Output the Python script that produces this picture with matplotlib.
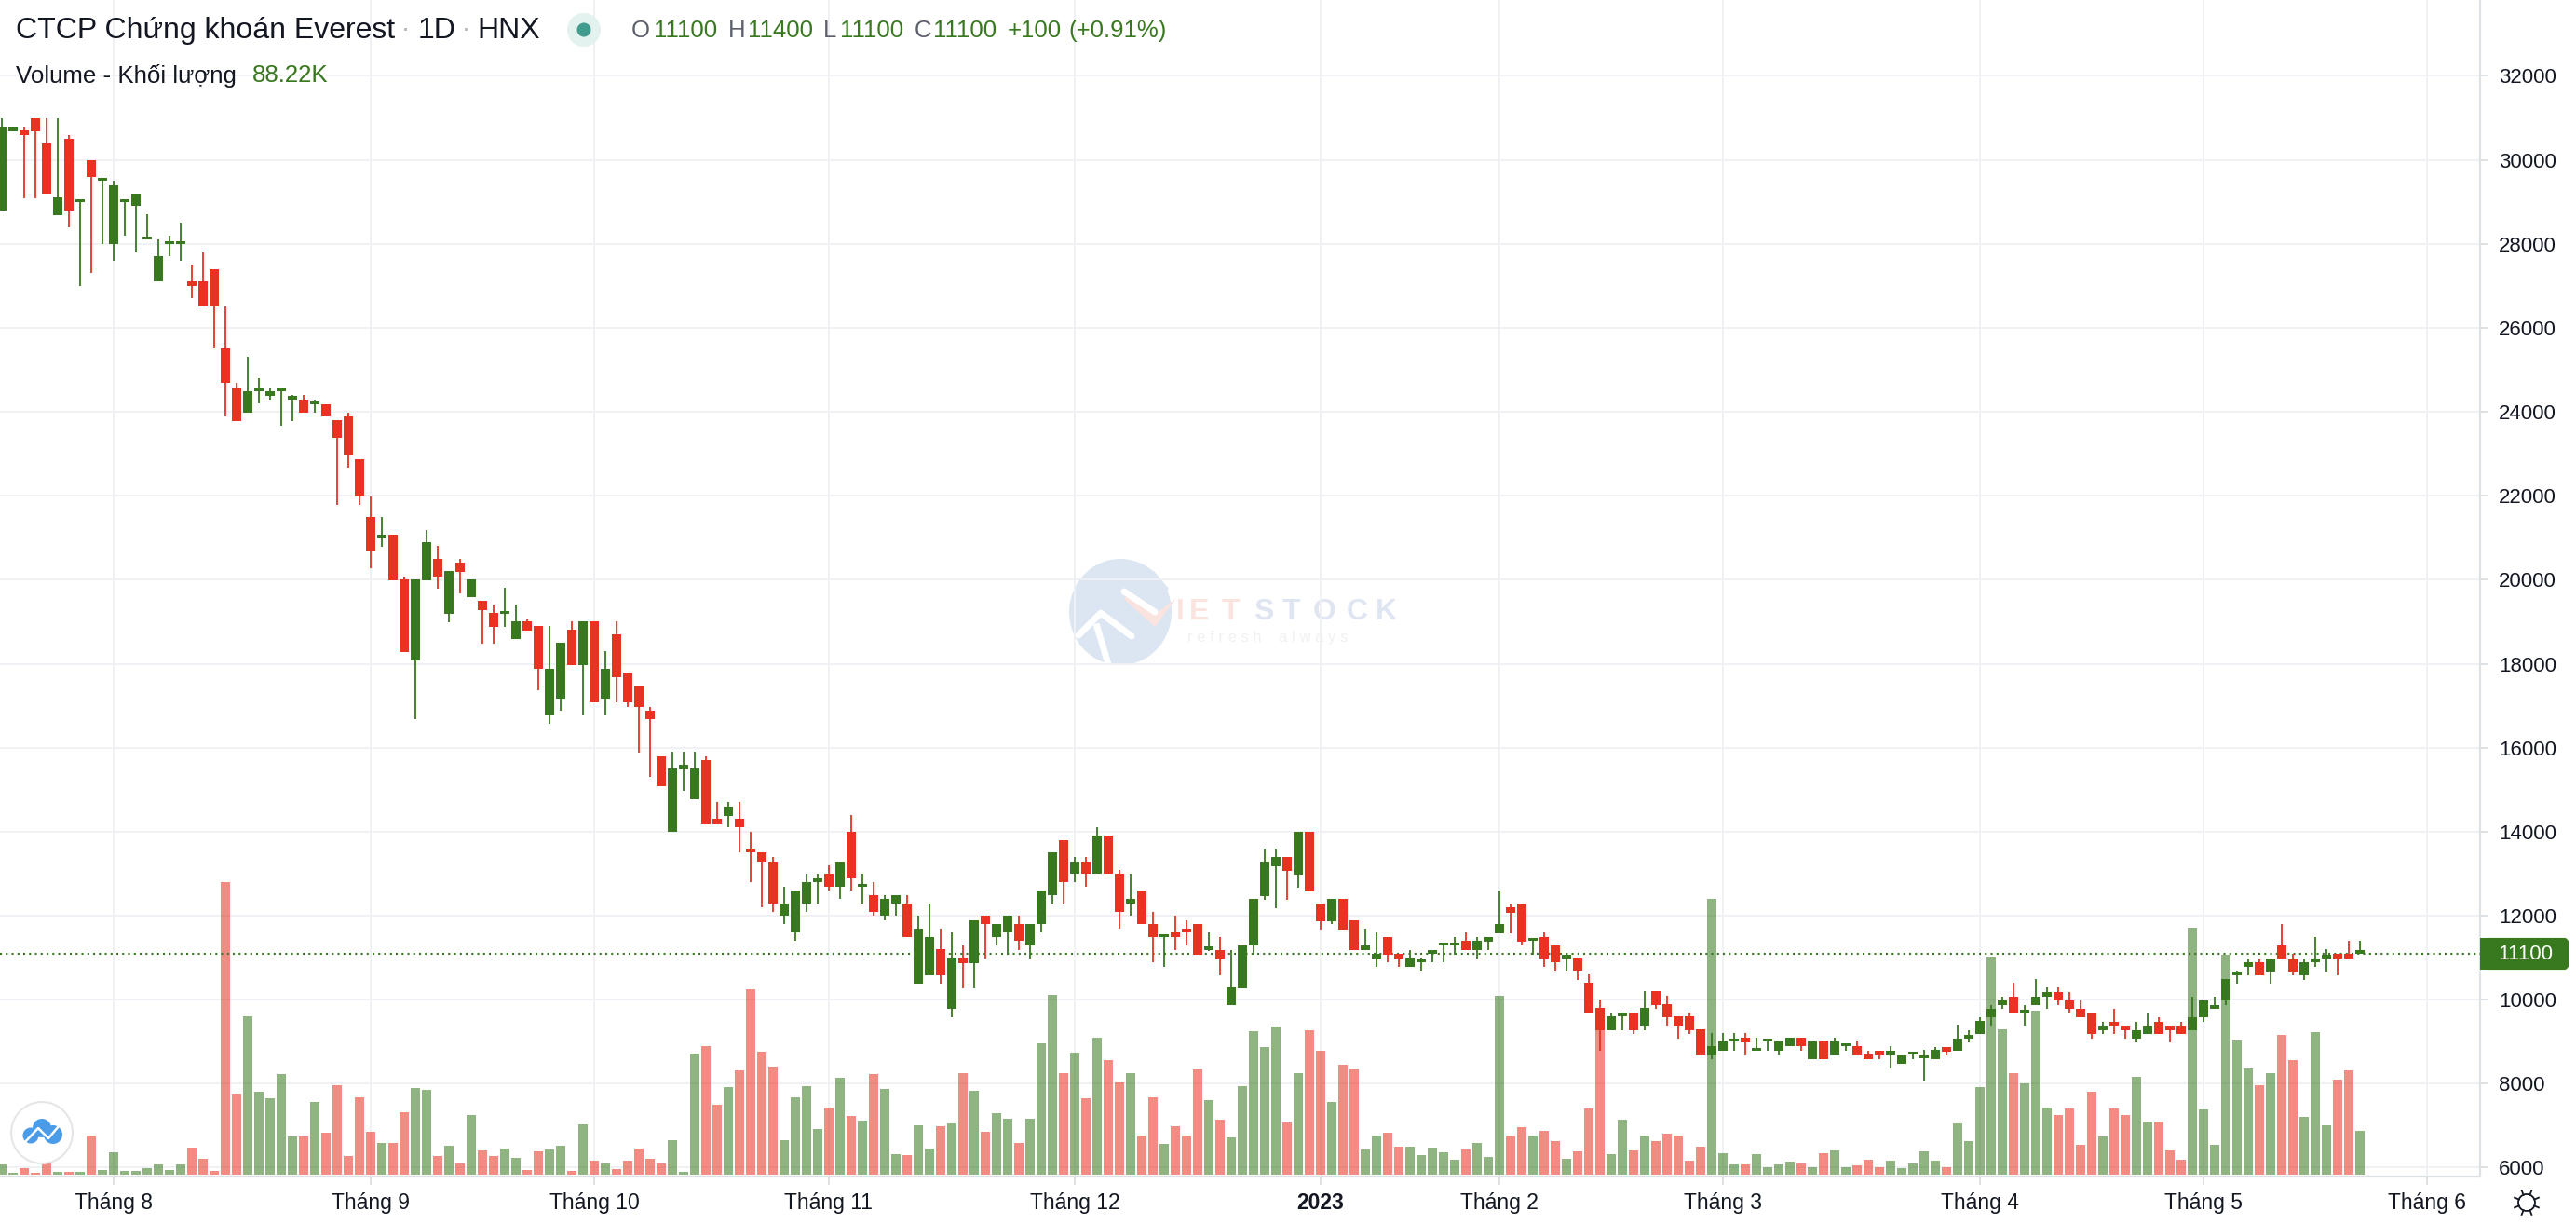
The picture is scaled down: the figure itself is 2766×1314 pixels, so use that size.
# Biểu đồ nến CTCP Chứng khoán Everest (1D, HNX) kèm khối lượng
import matplotlib
matplotlib.use("Agg")
import matplotlib.pyplot as plt
import numpy as np
from matplotlib.patches import Circle, Ellipse, FancyBboxPatch, Polygon, Rectangle

W, H = 2766, 1314
GREEN = "#38781f"
RED = "#e83323"
TEXT = "#131722"
GRID = "#eff1f4"
BORDER = "#dfe2e5"

plt.rcParams["font.family"] = ["Liberation Sans", "DejaVu Sans"]

# =========================
# Dữ liệu
# =========================
opens = [
    28800, 30680, 30700, 31000, 30400, 28680, 30500, 29000, 30000, 29500,
    28000, 29000, 28900, 28100, 27100, 28000, 28000, 27100, 27100, 27400,
    25500, 24590, 23980, 24500, 24370, 24500, 24300, 24300, 24180, 24180,
    23800, 23900, 22880, 21490, 20980, 21080, 20000, 18080, 19990, 20490,
    19190, 20400, 19590, 19490, 19200, 19190, 18590, 19000, 18890, 16770,
    17170, 18800, 17970, 19000, 17170, 18690, 17780, 17490, 16890, 15790,
    13990, 15490, 14780, 15710, 14310, 14380, 14310, 13600, 13510, 13290,
    11990, 11590, 12280, 12790, 13000, 12680, 14000, 12680, 12480, 11990,
    12280, 12280, 10390, 10590, 11200, 9790, 11000, 10870, 12000, 11480,
    11590, 11800, 11280, 11790, 12480, 13800, 12990, 13290, 12990, 13910,
    13000, 12280, 12600, 11800, 11480, 11600, 11680, 11800, 11190, 11190,
    9870, 10270, 11280, 12470, 13180, 13390, 12980, 14000, 12280, 11870,
    12390, 11880, 11180, 10990, 11490, 11100, 10790, 10880, 11100, 11290,
    11290, 11400, 11180, 11380, 11580, 12200, 12290, 11400, 11490, 11290,
    10990, 11000, 10400, 9800, 9270, 9600, 9700, 9390, 10200, 9890,
    9600, 9600, 9290, 8670, 8790, 9000, 9090, 8790, 9000, 8790,
    8890, 9090, 8590, 9000, 8680, 8890, 8890, 8700, 8790, 8680,
    8480, 8690, 8600, 8590, 8880, 8790, 9080, 9180, 9580, 9870,
    10080, 9680, 9870, 10070, 10190, 9990, 9790, 9680, 9280, 9480,
    9390, 9080, 9190, 9480, 9390, 9390, 9280, 9590, 9790, 9990,
    10590, 10780, 10890, 10670, 11290, 10990, 10580, 10880, 10990, 11090,
    11090, 11100,
]
highs = [
    31000, 30800, 30800, 31000, 31000, 31000, 30600, 29000, 30000, 29500,
    29500, 29000, 29200, 28700, 28100, 28200, 28500, 27500, 27800, 27400,
    26500, 24700, 25300, 24800, 24590, 24500, 24400, 24400, 24300, 24180,
    23800, 23980, 22880, 21980, 21490, 21080, 20080, 20000, 21190, 20800,
    20200, 20490, 20000, 19490, 19400, 19800, 19400, 19080, 18890, 18890,
    18490, 19000, 19000, 19000, 18290, 19000, 17780, 17490, 16980, 15790,
    15900, 15900, 15900, 15790, 14710, 14710, 14710, 14000, 13510, 13400,
    12680, 12600, 13000, 13000, 13200, 13290, 14400, 13000, 12790, 12480,
    12480, 12480, 11990, 12280, 11690, 11600, 11290, 11890, 12000, 11800,
    12000, 12000, 11800, 12600, 13510, 13800, 13400, 13400, 14100, 13910,
    13090, 13000, 12600, 12080, 11480, 12000, 11890, 11800, 11600, 11490,
    11190, 11290, 12390, 13590, 13590, 13390, 14000, 14000, 12280, 12390,
    12390, 11880, 11690, 11600, 11490, 11100, 11190, 11000, 11100, 11290,
    11490, 11600, 11490, 11490, 12600, 12280, 12290, 11400, 11600, 11290,
    11100, 11000, 10600, 10000, 9680, 9700, 9700, 10200, 10200, 10090,
    9600, 9690, 9290, 9200, 9200, 9205, 9205, 9090, 9000, 9000,
    9090, 9090, 9000, 9000, 9090, 8890, 9000, 8790, 8790, 8890,
    8680, 8690, 8795, 8880, 8880, 9400, 9280, 9590, 9880, 10080,
    10400, 9880, 10490, 10290, 10290, 10190, 9990, 9680, 9480, 9790,
    9390, 9480, 9680, 9590, 9390, 9480, 10080, 9990, 10080, 10490,
    10680, 10990, 10990, 10990, 11800, 11090, 10990, 11490, 11200, 11090,
    11400, 11400,
]
lows = [
    28800, 30680, 29080, 29080, 29200, 28680, 28400, 27000, 27300, 28000,
    27600, 28200, 27800, 28100, 27100, 27700, 27600, 26700, 26500, 25500,
    23890, 23780, 23980, 24200, 24290, 23680, 23780, 23980, 23980, 23890,
    21780, 22670, 21780, 20270, 20780, 19990, 18270, 16680, 19990, 19790,
    18990, 19680, 19590, 18480, 18480, 18880, 18590, 18790, 17370, 16570,
    16880, 17970, 16770, 17080, 16770, 17080, 16970, 15890, 15300, 15090,
    13990, 14980, 14780, 14180, 14180, 14100, 13500, 12790, 12190, 12080,
    11790, 11390, 12080, 12280, 12590, 12390, 12590, 12280, 11990, 11880,
    11990, 11480, 10390, 10590, 10390, 9590, 10280, 10280, 10990, 11280,
    11070, 11180, 10990, 11590, 12280, 12280, 12790, 12680, 12990, 12990,
    11680, 11990, 11790, 10880, 10790, 11180, 11280, 11070, 11160, 10590,
    9870, 10270, 11070, 12380, 12180, 12380, 12670, 12580, 11670, 11790,
    11670, 11180, 11180, 10790, 10880, 10790, 10790, 10680, 10880, 10880,
    11070, 11180, 10990, 11180, 11580, 11580, 11280, 11070, 10790, 10680,
    10680, 10480, 9680, 8780, 9270, 9270, 9180, 9270, 9790, 9390,
    9070, 9180, 8670, 8590, 8790, 8790, 8680, 8780, 8790, 8680,
    8890, 8790, 8590, 8590, 8680, 8790, 8680, 8590, 8590, 8370,
    8480, 8590, 8070, 8590, 8680, 8790, 8990, 9180, 9390, 9790,
    9670, 9390, 9870, 9790, 9870, 9670, 9590, 9080, 9180, 9180,
    9080, 8990, 9190, 9190, 8990, 9190, 9280, 9480, 9790, 9880,
    10380, 10580, 10580, 10380, 10980, 10580, 10470, 10780, 10670, 10580,
    10990, 11100,
]
closes = [
    30800, 30800, 30600, 30680, 29200, 29100, 28800, 29000, 29600, 29500,
    29400, 29000, 29200, 28100, 27700, 28000, 28000, 27000, 26500, 26500,
    24690, 23780, 24500, 24500, 24500, 24500, 24300, 23980, 24180, 23890,
    23370, 22980, 21980, 20670, 21080, 19990, 18270, 20000, 20890, 20080,
    20200, 20180, 20000, 19270, 18880, 19190, 19000, 18790, 17880, 17890,
    18490, 17970, 19000, 17080, 17890, 17680, 17080, 16970, 16680, 15090,
    15510, 15600, 15510, 14180, 14180, 14590, 14100, 13500, 13280, 12280,
    12290, 12600, 12800, 12890, 12680, 13290, 12880, 12680, 12080, 12400,
    12480, 11480, 11690, 11490, 10590, 11000, 10870, 11890, 11790, 11800,
    12000, 11390, 11800, 12600, 13510, 12790, 13290, 12990, 13910, 12990,
    12080, 12400, 11790, 11480, 11480, 11480, 11590, 11070, 11190, 10990,
    10290, 11290, 12390, 13290, 13390, 13060, 14000, 12580, 11870, 12390,
    11670, 11180, 11290, 11100, 11070, 10990, 11000, 10880, 11100, 11290,
    11290, 11180, 11400, 11490, 11800, 12070, 11380, 11400, 10990, 10880,
    10990, 10680, 9680, 9280, 9600, 9600, 9270, 9800, 9870, 9590,
    9390, 9270, 8670, 8890, 9000, 9000, 8980, 8790, 9000, 9000,
    9090, 8890, 9000, 8590, 9000, 8890, 8680, 8590, 8680, 8790,
    8680, 8690, 8600, 8795, 8770, 9080, 9080, 9490, 9790, 9990,
    9670, 9680, 10080, 10190, 9990, 9790, 9590, 9190, 9390, 9390,
    9280, 9280, 9390, 9190, 9280, 9190, 9590, 9990, 9880, 10490,
    10590, 10890, 10580, 10990, 10980, 10670, 10880, 10990, 10990, 10990,
    10990, 11100,
]
# Khối lượng (nghìn cổ phiếu)
volumes = [
    21, 4, 13, 4, 26, 6, 6, 6, 79, 9, 45, 8, 8, 13, 21, 9, 21, 54, 32, 8,
    589, 163, 319, 167, 154, 203, 77, 77, 146, 84, 180, 38, 156, 86, 64, 64, 126, 175, 171, 38,
    58, 23, 120, 49, 38, 53, 34, 9, 47, 51, 58, 8, 101, 28, 23, 11, 28, 53, 32, 23,
    69, 6, 244, 259, 141, 176, 210, 374, 248, 218, 69, 156, 178, 92, 135, 195, 118, 109, 203, 173,
    41, 39, 99, 53, 98, 103, 205, 169, 86, 124, 113, 64, 113, 265, 362, 205, 246, 154, 276, 231,
    186, 205, 79, 156, 62, 98, 79, 212, 150, 111, 75, 178, 289, 257, 298, 105, 205, 291, 250, 146,
    221, 212, 51, 79, 84, 56, 56, 39, 54, 45, 30, 51, 64, 36, 360, 79, 96, 79, 88, 68,
    32, 47, 133, 291, 41, 111, 49, 79, 68, 83, 79, 28, 56, 556, 43, 21, 21, 41, 15, 21,
    26, 23, 15, 43, 49, 15, 19, 30, 15, 28, 13, 23, 47, 28, 15, 103, 68, 176, 439, 293,
    205, 184, 330, 135, 120, 133, 60, 167, 77, 133, 120, 197, 107, 107, 49, 30, 497, 131, 60, 443,
    270, 214, 180, 205, 282, 231, 116, 287, 99, 191, 210, 88.22,
]
month_labels = ["Tháng 8", "Tháng 9", "Tháng 10", "Tháng 11", "Tháng 12", "2023",
                "Tháng 2", "Tháng 3", "Tháng 4", "Tháng 5", "Tháng 6"]
month_bars = [10, 33, 53, 74, 96, 118, 134, 154, 177, 197, 217]
price_ticks = list(range(6000, 34000, 2000))
last_price = 11100

# =========================
# Tạo các lớp trục
# =========================
fig = plt.figure(figsize=(W / 100, H / 100), dpi=100, facecolor="white")
rect = [0, (H - 1263) / H, 2663 / W, 1263 / H]

# tọa độ pixel cho watermark và biểu tượng
ax_back = fig.add_axes([0, 0, 1, 1], zorder=0)
ax_back.set_xlim(0, W)
ax_back.set_ylim(H, 0)
ax_back.axis("off")

ax = fig.add_axes(rect, zorder=1)
ax.patch.set_visible(False)
ax.set_xlim(-2 / 12, 2661 / 12)
ax.set_ylim(5788, 33808)

ax_vol = fig.add_axes(rect, zorder=2, sharex=ax)
ax_vol.patch.set_visible(False)
ax_vol.set_ylim(-3.75, 2367)
ax_vol.axis("off")

ax_candle = fig.add_axes(rect, zorder=3, sharex=ax, sharey=ax)
ax_candle.patch.set_visible(False)
ax_candle.axis("off")

ax_front = fig.add_axes([0, 0, 1, 1], zorder=4)
ax_front.patch.set_visible(False)
ax_front.set_xlim(0, W)
ax_front.set_ylim(H, 0)
ax_front.axis("off")

# =========================
# Lưới và trục
# =========================
ax.grid(True, color=GRID, linewidth=1.4)
ax.set_axisbelow(True)
ax.yaxis.tick_right()
ax.set_yticks(price_ticks)
ax.set_xticks(month_bars)
ax.set_xticklabels(month_labels)
ax.get_xticklabels()[5].set_fontweight("bold")
ax.tick_params(axis="y", length=6.5, width=1.4, color=BORDER, pad=8,
               labelsize=16, labelcolor=TEXT)
ax.tick_params(axis="x", length=6.5, width=1.4, color=BORDER, pad=5.5,
               labelsize=16.5, labelcolor=TEXT)
for name in ("top", "left"):
    ax.spines[name].set_visible(False)
for name in ("right", "bottom"):
    ax.spines[name].set_color(BORDER)
    ax.spines[name].set_linewidth(1.6)

# =========================
# Khối lượng và nến
# =========================
x = np.arange(len(closes))
o = np.array(opens, dtype=float)
c = np.array(closes, dtype=float)
colors = [GREEN if cl >= op else RED for op, cl in zip(opens, closes)]

ax_vol.bar(x, volumes, width=0.81, color=colors, alpha=0.56, linewidth=0)

ax_candle.axhline(last_price, color=GREEN, linewidth=1.5, linestyle=(0, (1, 2)), zorder=1)
ax_candle.vlines(x, lows, highs, colors=colors, linewidth=1.3, zorder=2)
body_low = np.minimum(o, c)
body_h = np.maximum(np.abs(c - o), 70)
ax_candle.bar(x, body_h, bottom=body_low, width=0.81, color=colors, linewidth=0, zorder=3)

# =========================
# Nhãn giá cuối
# =========================
ax_front.add_patch(FancyBboxPatch((2668, 1009), 88, 30, boxstyle="round,pad=0,rounding_size=3",
                                  facecolor=GREEN, edgecolor=GREEN, linewidth=3))
ax_front.add_patch(Rectangle((2663, 1007), 14, 34, facecolor=GREEN, edgecolor="none"))
ax_front.text(2682, 1024, f"{last_price}", color="white", fontsize=16, va="center", ha="left")

# =========================
# Tiêu đề
# =========================
ax_front.text(17, 33, "CTCP Chứng khoán Everest", color=TEXT, fontsize=23, va="center")
ax_front.text(435, 32, "·", color="#b0b4bc", fontsize=20, va="center", ha="center")
ax_front.text(449, 33, "1D", color=TEXT, fontsize=23, va="center")
ax_front.text(500, 32, "·", color="#b0b4bc", fontsize=20, va="center", ha="center")
ax_front.text(512, 33, "HNX", color=TEXT, fontsize=23, va="center")
ax_front.add_patch(Ellipse((627, 32), 36, 36, facecolor="#e3f1ef", edgecolor="none"))
ax_front.add_patch(Ellipse((627, 32), 15, 15, facecolor="#3f9c8e", edgecolor="none"))

ohlc_items = [(678, "O", "#5d606b"), (702, "11100", GREEN), (782, "H", "#5d606b"), (803, "11400", GREEN),
              (884, "L", "#5d606b"), (902, "11100", GREEN), (982, "C", "#5d606b"), (1002, "11100", GREEN),
              (1082, "+100", GREEN), (1147, "(+0.91%)", GREEN)]
for px, label, col in ohlc_items:
    ax_front.text(px, 33, label, color=col, fontsize=18.5, va="center")

ax_front.text(17, 81, "Volume - Khối lượng", color=TEXT, fontsize=18.6, va="center")
ax_front.text(271, 81, "88.22K", color=GREEN, fontsize=18.6, va="center")

# =========================
# Watermark VIETSTOCK
# =========================
ax_back.add_patch(Ellipse((1203, 657), 110, 114, facecolor="#dbe6f2", edgecolor="none"))
ax_back.add_patch(Polygon([(1207, 643), (1212, 636), (1240, 660), (1263, 642), (1240, 673)],
                          closed=True, facecolor="#fbe3e0", edgecolor="none"))
ax_back.plot([1207, 1240], [635, 657], color="white", linewidth=5, solid_capstyle="round")
ax_back.add_patch(Polygon([(1238, 612), (1255, 632), (1248, 640)], closed=True,
                          facecolor="#dbe6f2", edgecolor="none"))
ax_back.plot([1158, 1182, 1215], [682, 658, 683], color="white", linewidth=5, solid_capstyle="round")
ax_back.plot([1178, 1190], [673, 713], color="white", linewidth=5)
for letter, px, col in [("I", 1267, "#fbe3e0"), ("E", 1288, "#fbe3e0"), ("T", 1321, "#fbe3e0"),
                        ("S", 1357, "#dfe6f1"), ("T", 1386, "#dfe6f1"), ("O", 1422, "#dfe6f1"),
                        ("C", 1457, "#dfe6f1"), ("K", 1488, "#dfe6f1")]:
    ax_back.text(px, 657, letter, color=col, fontsize=23, fontweight="bold", va="center", ha="center")
ax_back.text(1275, 684, "r e f r e s h    a l w a y s", color="#f1f1f1", fontsize=12, va="center")

# =========================
# Biểu tượng góc dưới
# =========================
ax_front.add_patch(Circle((45, 1216), 33, facecolor="white", edgecolor="#e6e6e6", linewidth=1.5))
for cx, cy, r in [(45, 1211, 10), (33, 1219, 8.5), (57, 1218, 10)]:
    ax_front.add_patch(Circle((cx, cy), r, facecolor="#4b9ce8", edgecolor="none"))
ax_front.plot([26, 41, 52, 63], [1227, 1211, 1222, 1209], color="white", linewidth=1.8)

ax_front.add_patch(Circle((2713, 1291), 9, facecolor="none", edgecolor=TEXT, linewidth=1.3))
for a in np.arange(0, 360, 45) + 22.5:
    dx, dy = np.cos(np.radians(a)), np.sin(np.radians(a))
    ax_front.plot([2713 + 9 * dx, 2713 + 14 * dx], [1291 + 9 * dy, 1291 + 14 * dy],
                  color=TEXT, linewidth=1.3)

fig.savefig("out.png", dpi=100)
